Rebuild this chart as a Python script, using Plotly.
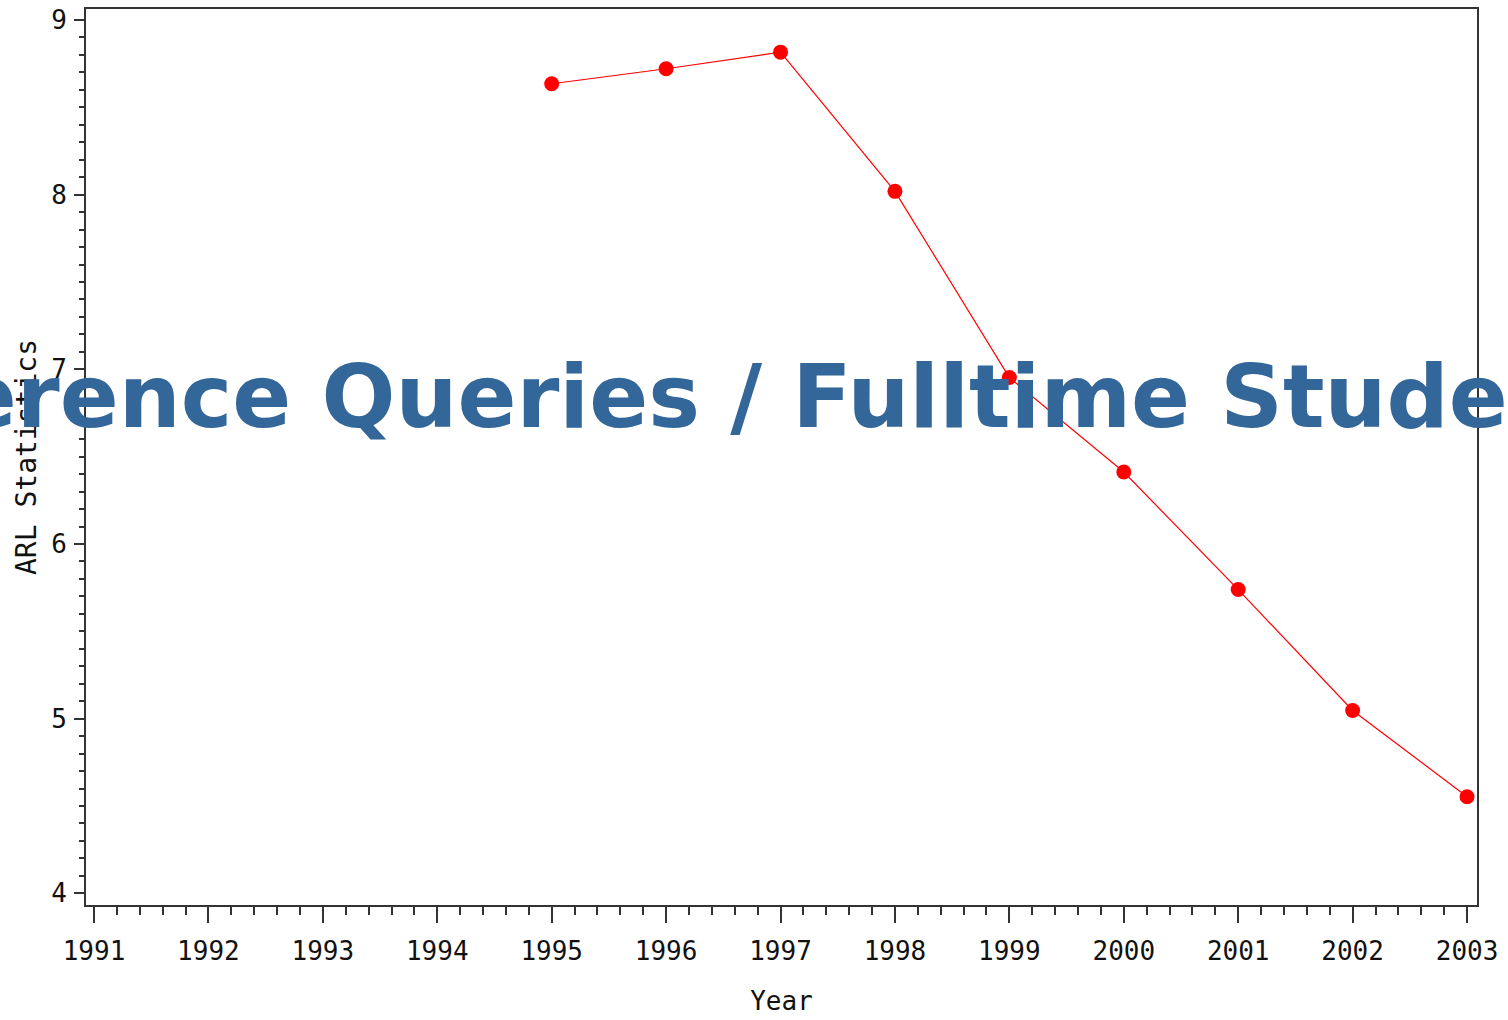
import plotly.graph_objects as go

years = [1995, 1996, 1997, 1998, 1999, 2000, 2001, 2002, 2003]
arl_values = [8.635, 8.721, 8.816, 8.019, 6.953, 6.412, 5.739, 5.047, 4.553]
x_ticks = list(range(1991, 2004))
y_ticks = [4, 5, 6, 7, 8, 9]

TICK_FONT = dict(family="DejaVu Sans Mono", size=26, color="#111111")
AXIS_COLOR = "#333333"

fig = go.Figure()
fig.add_trace(
    go.Scatter(
        x=years,
        y=arl_values,
        mode="lines+markers",
        line=dict(color="#ff0000", width=1.2),
        marker=dict(color="#ff0000", size=15),
        showlegend=False,
    )
)

fig.update_xaxes(
    range=[1990.93, 2003.087],
    tickvals=x_ticks,
    ticktext=[str(v) for v in x_ticks],
    ticks="outside",
    ticklen=16,
    tickwidth=2,
    tickcolor=AXIS_COLOR,
    minor=dict(dtick=0.2, tick0=1991, ticks="outside", ticklen=8, tickwidth=2, tickcolor=AXIS_COLOR),
    showline=True,
    linecolor=AXIS_COLOR,
    linewidth=2,
    mirror=True,
    showgrid=False,
    zeroline=False,
    tickfont=TICK_FONT,
    ticklabelstandoff=6,
    title=dict(text="Year", font=TICK_FONT, standoff=27),
)
fig.update_yaxes(
    range=[3.933, 9.063],
    tickvals=y_ticks,
    ticks="outside",
    ticklen=10,
    tickwidth=2,
    tickcolor=AXIS_COLOR,
    minor=dict(dtick=0.1, tick0=4, ticks="outside", ticklen=5, tickwidth=2, tickcolor=AXIS_COLOR),
    showline=True,
    linecolor=AXIS_COLOR,
    linewidth=2,
    mirror=True,
    showgrid=False,
    zeroline=False,
    tickfont=TICK_FONT,
    ticklabelstandoff=2,
    title=dict(text="ARL Statistics", font=dict(family="DejaVu Sans Mono", size=28, color="#111111"), standoff=6),
)

# big overlay caption, wider than the page so it gets cut at both sides
fig.add_annotation(
    text="<b>Reference Queries / Fulltime Students</b>",
    xref="paper",
    yref="paper",
    x=0.462,
    y=0.567,
    xanchor="center",
    yanchor="middle",
    showarrow=False,
    font=dict(family="DejaVu Sans", size=87, color="#336699"),
)

fig.update_layout(
    width=1508,
    height=1020,
    margin=dict(l=86, r=31, t=5, b=115),
    paper_bgcolor="white",
    plot_bgcolor="white",
)

fig.write_html(
    "out.html",
    config={"displayModeBar": False},
    post_script="document.body.style.margin='0';",
)
